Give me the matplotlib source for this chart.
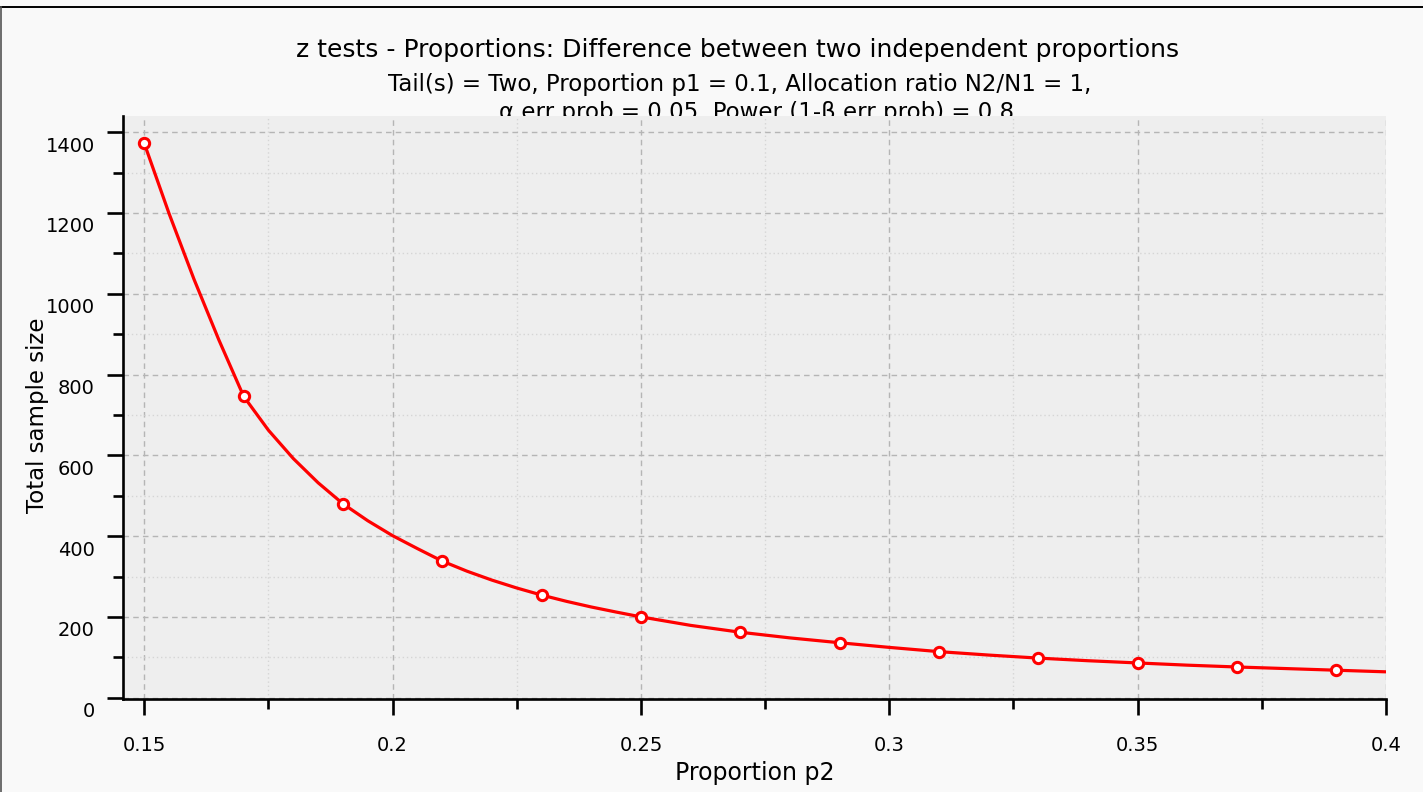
import matplotlib
matplotlib.use("Agg")
import matplotlib.pyplot as plt
from matplotlib.ticker import MultipleLocator
from matplotlib.transforms import ScaledTranslation
from matplotlib.lines import Line2D

# Computed design points: proportion p2 vs. total sample size
p2_points = [0.15, 0.17, 0.19, 0.21, 0.23, 0.25, 0.27, 0.29, 0.31, 0.33, 0.35, 0.37, 0.39]
n_points = [1372, 746, 480, 338, 254, 200, 162, 136, 114, 98, 86, 76, 68]

# Dense curve through the same range
curve_p2 = [0.15, 0.155, 0.16, 0.165, 0.17, 0.175, 0.18, 0.185, 0.19, 0.195,
            0.20, 0.205, 0.21, 0.215, 0.22, 0.225, 0.23, 0.235, 0.24, 0.245,
            0.25, 0.26, 0.27, 0.28, 0.29, 0.30, 0.31, 0.32, 0.33, 0.34,
            0.35, 0.36, 0.37, 0.38, 0.39, 0.40]
curve_n = [1372, 1198, 1036, 886, 746, 662, 592, 532, 480, 438,
           401, 369, 338, 313, 291, 271.5, 254, 238.5, 224.5, 212,
           200, 179, 162, 148, 136, 124.5, 114, 105.5, 98, 91.5,
           86, 80.5, 76, 72, 68, 64]

x_ticks = [0.15, 0.2, 0.25, 0.3, 0.35, 0.4]
x_ticklabels = ["0.15", "0.2", "0.25", "0.3", "0.35", "0.4"]
y_ticks = [0, 200, 400, 600, 800, 1000, 1200, 1400]

title = "z tests - Proportions: Difference between two independent proportions"
subtitle1 = "Tail(s) = Two, Proportion p1 = 0.1, Allocation ratio N2/N1 = 1,"
subtitle2 = "\u03b1 err prob = 0.05, Power (1-\u03b2 err prob) = 0.8"
x_label = "Proportion p2"
y_label = "Total sample size"

W, H = 1423, 792
DPI = 100
plt.rcParams["font.family"] = ["DejaVu Sans"]

fig = plt.figure(figsize=(W / DPI, H / DPI), dpi=DPI, facecolor="#f9f9f9")

left, right, top, bottom = 123.3, 1386.0, 116.0, 699.3
ax = fig.add_axes([left / W, 1 - bottom / H, (right - left) / W, (bottom - top) / H])
ax.set_facecolor("#eeeeee")
ax.set_xlim(0.14577, 0.4)
ax.set_ylim(-4, 1440)

ax.set_xticks(x_ticks)
ax.set_xticklabels(x_ticklabels)
ax.xaxis.set_minor_locator(MultipleLocator(0.025))
ax.set_yticks(y_ticks)
ax.yaxis.set_minor_locator(MultipleLocator(100))

ax.set_axisbelow(True)
ax.grid(which="major", linestyle=(0, (4, 3)), color="#b5b5b5", linewidth=1.0)
ax.grid(which="minor", linestyle=(0, (1, 2)), color="#d5d5d5", linewidth=1.0)

for side in ("top", "right"):
    ax.spines[side].set_visible(False)
for side in ("left", "bottom"):
    ax.spines[side].set_linewidth(1.9)
    ax.spines[side].set_color("black")

ax.tick_params(axis="both", which="major", direction="out", width=1.9, length=11.5,
               labelsize=14, color="black")
ax.tick_params(axis="both", which="minor", direction="out", width=1.9, length=7.5,
               color="black")
ax.tick_params(axis="y", which="major", pad=9)
ax.tick_params(axis="x", which="major", pad=15)

# y tick labels sit slightly below their ticks
shift = ScaledTranslation(0, -12 / DPI, fig.dpi_scale_trans)
for lab in ax.get_yticklabels():
    lab.set_transform(lab.get_transform() + shift)

ax.plot(curve_p2, curve_n, color="#ff0000", linewidth=2.3, zorder=3, clip_on=True,
        solid_joinstyle="round")
ax.plot(p2_points, n_points, linestyle="none", marker="o", markersize=7.4,
        markerfacecolor="white", markeredgecolor="#ff0000", markeredgewidth=2.2,
        zorder=4, clip_on=False)

ax.set_xlabel(x_label, fontsize=17)
ax.xaxis.label.set_va("center")
ax.xaxis.set_label_coords(0.5, -(773 - bottom) / (bottom - top))
ax.set_ylabel(y_label, fontsize=16.5)
ax.yaxis.label.set_va("center")
ax.yaxis.set_label_coords((37.5 - left) / (right - left), (bottom - 415.5) / (bottom - top))

# Header text sits behind the plot area
fig.text(738 / W, 1 - 56.5 / H, title, ha="center", va="baseline", fontsize=18, zorder=-1)
fig.text(740 / W, 1 - 90.5 / H, subtitle1, ha="center", va="baseline", fontsize=16.5, zorder=-1)
fig.text(757 / W, 1 - 119 / H, subtitle2, ha="center", va="baseline", fontsize=16.5, zorder=-1)

# Window frame edges
fig.add_artist(Line2D([0, 1], [1 - 6.5 / H, 1 - 6.5 / H], transform=fig.transFigure,
                      color="black", linewidth=1.4))
fig.add_artist(Line2D([0.6 / W, 0.6 / W], [0, 1 - 6.5 / H], transform=fig.transFigure,
                      color="#555555", linewidth=1.2))

fig.savefig("out.png", dpi=DPI, facecolor=fig.get_facecolor())
